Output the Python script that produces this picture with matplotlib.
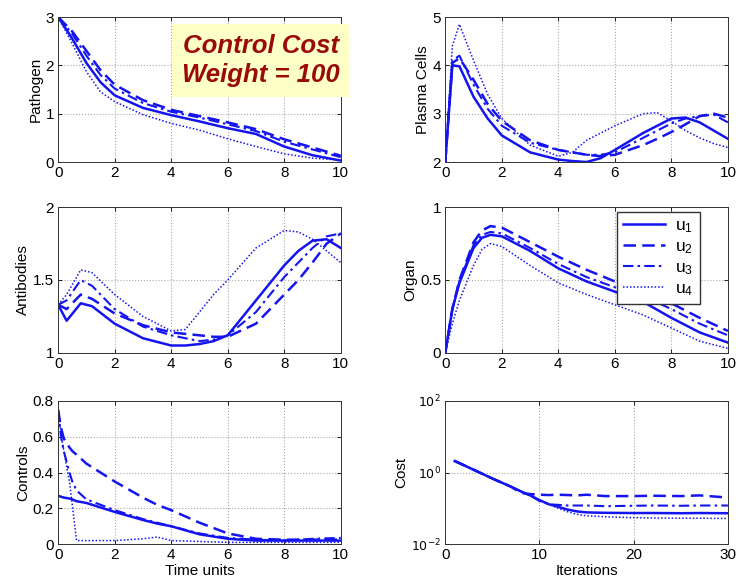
import numpy as np
import matplotlib
matplotlib.use("Agg")
import matplotlib.pyplot as plt

plt.rcParams['font.family'] = ['Liberation Sans', 'DejaVu Sans']

# ---- data ----
labels = [r'$\mathregular{u_1}$', r'$\mathregular{u_2}$', r'$\mathregular{u_3}$', r'$\mathregular{u_4}$']

t_path = [0, 0.5, 1, 1.5, 2, 3, 4, 5, 6, 7, 8, 9, 10]
path_u1 = [3.0, 2.55, 2.05, 1.65, 1.38, 1.12, 0.97, 0.84, 0.70, 0.58, 0.32, 0.14, 0.03]
path_u2 = [3.0, 2.7, 2.3, 1.9, 1.6, 1.28, 1.08, 0.95, 0.82, 0.68, 0.47, 0.30, 0.13]
path_u3 = [3.0, 2.65, 2.2, 1.8, 1.52, 1.22, 1.04, 0.92, 0.78, 0.64, 0.42, 0.26, 0.10]
path_u4 = [3.0, 2.45, 1.87, 1.45, 1.25, 0.98, 0.80, 0.66, 0.48, 0.32, 0.17, 0.08, 0.04]

t_plas = [0, 0.25, 0.5, 1, 1.5, 2, 3, 4, 4.5, 5, 5.5, 6, 7, 7.5, 8, 8.5, 9, 9.5, 10]
plas_u1 = [2.0, 4.0, 3.98, 3.35, 2.9, 2.55, 2.2, 2.05, 2.02, 2.0, 2.08, 2.25, 2.6, 2.75, 2.9, 2.92, 2.82, 2.65, 2.48]
plas_u2 = [2.0, 4.05, 4.15, 3.7, 3.2, 2.85, 2.45, 2.25, 2.2, 2.15, 2.12, 2.15, 2.35, 2.48, 2.62, 2.78, 2.95, 3.0, 2.92]
plas_u3 = [2.0, 4.1, 4.2, 3.6, 3.1, 2.75, 2.4, 2.25, 2.2, 2.15, 2.15, 2.2, 2.5, 2.65, 2.8, 2.9, 2.95, 2.98, 2.82]
plas_u4 = [2.0, 4.4, 4.85, 4.1, 3.4, 2.9, 2.35, 2.12, 2.2, 2.45, 2.6, 2.75, 3.0, 3.02, 2.85, 2.65, 2.5, 2.38, 2.3]

t_anti = [0, 0.3, 0.8, 1.2, 2, 3, 4, 4.5, 5, 5.5, 6, 7, 8, 8.5, 9, 9.5, 10]
anti_u1 = [1.33, 1.22, 1.34, 1.32, 1.2, 1.1, 1.05, 1.05, 1.06, 1.08, 1.12, 1.36, 1.6, 1.7, 1.77, 1.78, 1.72]
anti_u2 = [1.33, 1.3, 1.4, 1.37, 1.27, 1.19, 1.14, 1.13, 1.12, 1.11, 1.11, 1.2, 1.4, 1.5, 1.62, 1.75, 1.82]
anti_u3 = [1.33, 1.36, 1.5, 1.46, 1.3, 1.18, 1.12, 1.1, 1.08, 1.09, 1.12, 1.28, 1.52, 1.62, 1.72, 1.8, 1.82]
anti_u4 = [1.33, 1.4, 1.57, 1.55, 1.4, 1.25, 1.15, 1.16, 1.28, 1.4, 1.5, 1.72, 1.84, 1.83, 1.78, 1.7, 1.62]

t_org = [0, 0.25, 0.5, 1, 1.3, 1.6, 2, 3, 4, 5, 6, 7, 8, 9, 10]
org_u1 = [0.0, 0.3, 0.48, 0.72, 0.79, 0.81, 0.8, 0.7, 0.58, 0.49, 0.42, 0.35, 0.24, 0.14, 0.07]
org_u2 = [0.0, 0.3, 0.5, 0.76, 0.84, 0.87, 0.86, 0.76, 0.66, 0.57, 0.49, 0.42, 0.34, 0.24, 0.15]
org_u3 = [0.0, 0.3, 0.49, 0.74, 0.81, 0.83, 0.82, 0.72, 0.61, 0.52, 0.45, 0.39, 0.3, 0.2, 0.12]
org_u4 = [0.0, 0.2, 0.36, 0.6, 0.71, 0.75, 0.73, 0.6, 0.48, 0.4, 0.33, 0.26, 0.17, 0.08, 0.03]

t_ctrl = [0, 0.1, 0.2, 0.4, 0.5, 0.65, 1, 2, 3, 3.5, 4, 5, 6, 7, 8, 9, 10]
ctrl_u1 = [0.27, 0.265, 0.26, 0.255, 0.25, 0.24, 0.23, 0.18, 0.135, 0.115, 0.1, 0.055, 0.03, 0.02, 0.02, 0.02, 0.02]
ctrl_u2 = [0.75, 0.65, 0.59, 0.54, 0.52, 0.5, 0.45, 0.35, 0.26, 0.22, 0.19, 0.12, 0.06, 0.03, 0.025, 0.025, 0.025]
ctrl_u3 = [0.75, 0.6, 0.52, 0.4, 0.35, 0.3, 0.25, 0.19, 0.14, 0.12, 0.1, 0.06, 0.035, 0.025, 0.02, 0.03, 0.035]
ctrl_u4 = [0.75, 0.62, 0.52, 0.35, 0.22, 0.02, 0.02, 0.02, 0.03, 0.04, 0.02, 0.015, 0.01, 0.01, 0.01, 0.01, 0.01]

iters = [1, 3, 5, 7, 8, 9, 10, 11, 12, 13, 14, 15, 17, 20, 22, 25, 27, 30]
cost_u1 = [2.1, 1.2, 0.68, 0.4, 0.3, 0.23, 0.17, 0.13, 0.11, 0.092, 0.082, 0.077, 0.075, 0.074, 0.074, 0.073, 0.074, 0.073]
cost_u2 = [2.1, 1.2, 0.68, 0.4, 0.27, 0.25, 0.24, 0.235, 0.24, 0.235, 0.23, 0.24, 0.22, 0.22, 0.225, 0.22, 0.23, 0.2]
cost_u3 = [2.1, 1.2, 0.68, 0.4, 0.3, 0.23, 0.16, 0.13, 0.125, 0.12, 0.12, 0.12, 0.115, 0.118, 0.12, 0.118, 0.12, 0.12]
cost_u4 = [2.1, 1.2, 0.68, 0.4, 0.3, 0.23, 0.17, 0.13, 0.1, 0.08, 0.068, 0.062, 0.058, 0.055, 0.054, 0.053, 0.053, 0.052]

blue = '#1414f0'
styles = [dict(ls='-', lw=1.8),
          dict(ls=(0, (5, 2.5)), lw=1.8),
          dict(ls=(0, (5, 2, 1.2, 2)), lw=1.5),
          dict(ls=(0, (1, 1.3)), lw=1.1)]

fig = plt.figure(figsize=(7.36, 5.87), dpi=100)
fig.patch.set_facecolor('white')

L1, L2, W = 0.079, 0.605, 0.384
rows = [(0.724, 0.247), (0.399, 0.248), (0.073, 0.244)]


def style_ax(ax):
    ax.grid(True, color='#a8a8a8', ls=':', lw=0.8)
    ax.tick_params(direction='in', top=True, right=True, labelsize=11, length=3, width=0.6, pad=3)
    for s in ax.spines.values():
        s.set_linewidth(0.7)
        s.set_color('#333333')


def panel(rect, t, series, ylim, yticks, ylabel, xlim=(0, 10), xticks=(0, 2, 4, 6, 8, 10)):
    ax = fig.add_axes(rect)
    for y, st, lab in zip(series, styles, labels):
        ax.plot(t, y, color=blue, label=lab, **st)
    ax.set_xlim(*xlim)
    ax.set_ylim(*ylim)
    ax.set_xticks(xticks)
    ax.set_yticks(yticks)
    ax.set_ylabel(ylabel, fontsize=11, labelpad=2)
    style_ax(ax)
    return ax


panel([L1, rows[0][0], W, rows[0][1]], t_path, [path_u1, path_u2, path_u3, path_u4],
      (0, 3), [0, 1, 2, 3], 'Pathogen')
panel([L2, rows[0][0], W, rows[0][1]], t_plas, [plas_u1, plas_u2, plas_u3, plas_u4],
      (2, 5), [2, 3, 4, 5], 'Plasma Cells')
ax = panel([L1, rows[1][0], W, rows[1][1]], t_anti, [anti_u1, anti_u2, anti_u3, anti_u4],
           (1, 2), [1, 1.5, 2], 'Antibodies')
ax.set_yticklabels(['1', '1.5', '2'])
ax = panel([L2, rows[1][0], W, rows[1][1]], t_org, [org_u1, org_u2, org_u3, org_u4],
           (0, 1), [0, 0.5, 1], 'Organ')
ax.set_yticklabels(['0', '0.5', '1'])
ax.legend(loc='upper right', bbox_to_anchor=(0.90, 0.97), fontsize=12.5, handlelength=2.4,
          frameon=True, fancybox=False, edgecolor='#333333', framealpha=1,
          borderpad=0.35, labelspacing=0.25, handletextpad=0.6, borderaxespad=0)
ax = panel([L1, rows[2][0], W, rows[2][1]], t_ctrl, [ctrl_u1, ctrl_u2, ctrl_u3, ctrl_u4],
           (0, 0.8), [0, 0.2, 0.4, 0.6, 0.8], 'Controls')
ax.set_yticklabels(['0', '0.2', '0.4', '0.6', '0.8'])
ax.set_xlabel('Time units', fontsize=11, labelpad=1)

ax = fig.add_axes([L2, rows[2][0], W, rows[2][1]])
for y, st, lab in zip([cost_u1, cost_u2, cost_u3, cost_u4], styles, labels):
    ax.plot(iters, y, color=blue, label=lab, **st)
ax.set_yscale('log')
ax.set_xlim(0, 30)
ax.set_ylim(1e-2, 1e2)
ax.set_xticks([0, 10, 20, 30])
ax.set_yticks([1e-2, 1, 1e2])
ax.set_yticklabels([r'$10^{-2}$', r'$10^{0}$', r'$10^{2}$'])
ax.yaxis.set_minor_locator(matplotlib.ticker.NullLocator())
ax.set_ylabel('Cost', fontsize=11, labelpad=2)
ax.set_xlabel('Iterations', fontsize=11, labelpad=1)
style_ax(ax)
ax.tick_params(axis='y', labelsize=9)

fig.text(0.355, 0.897, 'Control Cost\nWeight = 100', ha='center', va='center',
         fontsize=18.5, fontweight='bold', fontstyle='italic', color='#9b0a0a',
         linespacing=1.25,
         bbox=dict(boxstyle='square,pad=0.4', facecolor='#ffffc8', edgecolor='none'))

fig.savefig('out.png', dpi=100)
